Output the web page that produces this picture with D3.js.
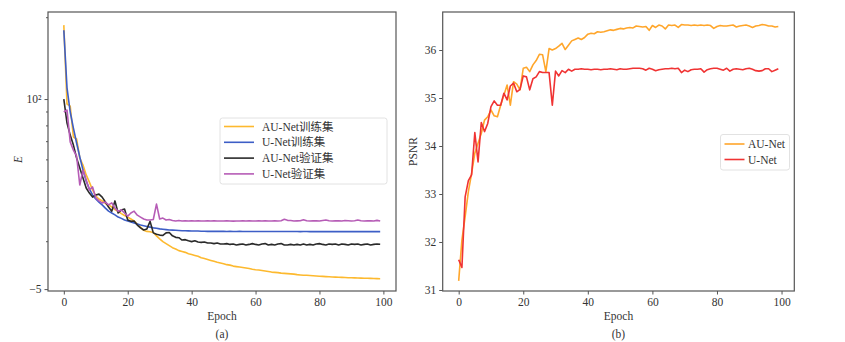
<!DOCTYPE html>
<html>
<head>
<meta charset="utf-8">
<script src="https://cdn.jsdelivr.net/npm/d3@7"></script>
<style>
  body { margin: 0; background: #fff; }
  svg { display: block; }
  text { font-family: "Liberation Serif", "Times New Roman", "Noto Sans CJK SC", serif; fill: #333; }
</style>
</head>
<body>
<div id="container"></div>
<script>
/* DATA */
const epochs = d3.range(0, 100);

// panel (a): E, log axis
const auNetTrain = [187, 95.9, 94.2, 72.5, 71.3, 60.7, 57.2, 52.6, 49.5, 46.3,
  44.0, 42.9, 42.2, 41.3, 40.8, 40.1, 39.2, 38.6, 37.9, 37.3,
  36.8, 36.2, 35.6, 34.7, 33.8, 32.9, 32.6, 32.5, 32.3, 31.4,
  30.6, 29.9, 29.4, 28.9, 28.4, 28.1, 27.7, 27.5, 27.3, 27.0,
  26.8, 26.6, 26.4, 26.1, 25.9, 25.7, 25.5, 25.3, 25.1, 24.95,
  24.8, 24.6, 24.5, 24.3, 24.2, 24.1, 24.0, 23.9, 23.8, 23.65,
  23.55, 23.5, 23.4, 23.3, 23.2, 23.1, 23.05, 23.0, 22.9, 22.85,
  22.8, 22.75, 22.7, 22.6, 22.55, 22.5, 22.5, 22.45, 22.4, 22.35,
  22.3, 22.27, 22.23, 22.2, 22.16, 22.14, 22.1, 22.08, 22.05, 22.03,
  22.01, 22.0, 21.97, 21.95, 21.93, 21.91, 21.9, 21.88, 21.86, 21.84];

const uNetTrain = [179, 110, 89.6, 78.2, 68.9, 61.2, 54.8, 49.9, 46.7, 44.4,
  42.9, 41.8, 40.8, 39.7, 38.7, 38.1, 37.5, 36.8, 36.4, 35.9,
  35.6, 35.3, 35.0, 34.7, 34.4, 34.2, 34.0, 33.8, 33.6, 33.5,
  33.3, 33.2, 33.1, 33.0, 32.95, 32.9, 32.85, 32.8, 32.8, 32.75,
  32.7, 32.7, 32.7, 32.65, 32.65, 32.6, 32.6, 32.6, 32.6, 32.6,
  32.6, 32.58, 32.6, 32.58, 32.58, 32.6, 32.58, 32.58, 32.57, 32.58,
  32.57, 32.57, 32.58, 32.57, 32.57, 32.56, 32.57, 32.57, 32.56, 32.56,
  32.57, 32.56, 32.56, 32.56, 32.55, 32.56, 32.56, 32.55, 32.56, 32.55,
  32.55, 32.55, 32.56, 32.55, 32.55, 32.55, 32.54, 32.55, 32.55, 32.54,
  32.55, 32.54, 32.54, 32.55, 32.54, 32.54, 32.54, 32.54, 32.53, 32.54];

const auNetVal = [100, 81.6, 73.7, 67.7, 60.7, 55.8, 51.2, 47.1, 45.1, 43.6,
  44.4, 44.7, 43.6, 41.8, 40.1, 38.7, 42.2, 38.1, 39.1, 39.4,
  35.9, 35.5, 35.6, 34.4, 33.6, 33.0, 33.3, 35.5, 32.2, 31.8,
  31.6, 31.5, 32.2, 32.3, 31.4, 31.0, 30.9, 30.3, 30.4, 30.1,
  29.9, 30.1, 29.8, 29.7, 29.8, 29.55, 29.55, 29.4, 29.55, 29.3,
  29.3, 29.4, 29.2, 29.3, 29.05, 29.2, 29.3, 29.05, 29.2, 29.4,
  29.2, 29.05, 29.3, 29.4, 29.05, 29.2, 29.05, 29.3, 29.4, 29.05,
  29.05, 29.2, 29.05, 29.2, 29.05, 29.3, 29.05, 29.2, 29.05, 29.3,
  29.4, 29.2, 29.05, 29.3, 29.2, 29.3, 29.05, 29.3, 29.2, 29.05,
  29.3, 29.2, 29.3, 29.05, 29.2, 29.3, 29.05, 29.2, 29.3, 29.25];

const uNetVal = [89.6, 91.1, 69.5, 64.9, 61.7, 48.3, 54.8, 50.4, 46.3, 47.5,
  43.3, 42.2, 41.5, 41.8, 40.8, 41.5, 39.7, 38.7, 39.1, 38.1,
  37.1, 38.1, 38.7, 37.4, 36.8, 36.2, 35.9, 35.9, 36.05, 41.1,
  36.2, 36.5, 35.9, 36.05, 35.75, 35.6, 35.75, 35.6, 35.7, 35.6,
  35.65, 35.6, 35.7, 35.6, 35.6, 35.65, 35.6, 35.7, 35.6, 35.6,
  35.6, 35.65, 35.6, 35.55, 35.6, 35.6, 35.65, 35.6, 35.7, 35.6,
  35.6, 35.65, 35.6, 35.7, 35.6, 35.6, 35.65, 35.6, 35.7, 36.1,
  35.8, 35.75, 35.6, 35.65, 35.7, 36.0, 35.7, 35.6, 35.65, 35.7,
  35.6, 35.75, 35.9, 35.7, 35.6, 35.65, 35.7, 35.6, 35.75, 35.7,
  35.6, 35.7, 35.9, 35.7, 35.6, 35.65, 35.7, 35.6, 35.8, 35.6];

// panel (b): PSNR
const auNetPsnr = [31.19, 32.04, 32.53, 33.05, 33.43, 33.85, 34.06, 34.26, 34.54, 34.61,
  34.75, 34.63, 34.61, 34.85, 35.06, 35.27, 34.85, 35.34, 35.29, 35.17,
  35.62, 35.64, 35.55, 35.69, 35.78, 35.91, 35.90, 35.55, 36.03, 36.00,
  36.03, 36.08, 36.14, 36.01, 36.10, 36.19, 36.22, 36.25, 36.22, 36.26,
  36.33, 36.35, 36.34, 36.38, 36.37, 36.38, 36.40, 36.42, 36.41, 36.43,
  36.45, 36.44, 36.46, 36.47, 36.46, 36.50, 36.49, 36.48, 36.49, 36.41,
  36.51, 36.47, 36.52, 36.50, 36.44, 36.52, 36.51, 36.52, 36.47, 36.53,
  36.52, 36.52, 36.51, 36.52, 36.51, 36.52, 36.51, 36.52, 36.51, 36.45,
  36.49, 36.51, 36.50, 36.50, 36.51, 36.52, 36.48, 36.50, 36.51, 36.52,
  36.50, 36.47, 36.50, 36.51, 36.53, 36.52, 36.50, 36.50, 36.48, 36.49];

const uNetPsnr = [31.63, 31.47, 32.94, 33.28, 33.40, 34.28, 33.67, 34.49, 34.30, 34.47,
  34.82, 34.94, 34.85, 34.85, 35.10, 34.96, 35.25, 35.31, 35.13, 35.18,
  35.46, 35.44, 35.17, 35.40, 35.44, 35.55, 35.53, 35.53, 35.53, 34.85,
  35.56, 35.46, 35.57, 35.53, 35.60, 35.56, 35.60, 35.60, 35.61, 35.60,
  35.60, 35.59, 35.60, 35.60, 35.59, 35.60, 35.60, 35.61, 35.60, 35.59,
  35.61, 35.60, 35.60, 35.61, 35.62, 35.62, 35.62, 35.61, 35.58, 35.62,
  35.60, 35.57, 35.59, 35.60, 35.61, 35.61, 35.62, 35.61, 35.62, 35.53,
  35.58, 35.55, 35.59, 35.60, 35.60, 35.61, 35.54, 35.59, 35.61, 35.62,
  35.62, 35.60, 35.58, 35.62, 35.56, 35.60, 35.61, 35.60, 35.59, 35.61,
  35.62, 35.60, 35.57, 35.56, 35.57, 35.61, 35.61, 35.55, 35.58, 35.61];

const xTickValues = [0, 20, 40, 60, 80, 100];
const eTickValues = [20, 30, 40, 50, 60, 70, 80, 90, 100, 200];
const eTickLabels = ["\u22125", "", "", "", "", "", "", "", "10\u00b2", ""];
const psnrTickValues = [31, 32, 33, 34, 35, 36];

const seriesA = [
  { name: "AU-Net训练集", values: auNetTrain, color: "#fdb92e" },
  { name: "U-Net训练集", values: uNetTrain, color: "#3d5ec6" },
  { name: "AU-Net验证集", values: auNetVal, color: "#2a2a2a" },
  { name: "U-Net验证集", values: uNetVal, color: "#b65cb6" }
];
const seriesB = [
  { name: "AU-Net", values: auNetPsnr, color: "#ffa62b" },
  { name: "U-Net", values: uNetPsnr, color: "#f03333" }
];

/* CONSTANTS */
const width = 845;
const height = 342;
const spine = "#555";

const svg = d3.select("#container")
  .append("svg")
  .attr("width", width)
  .attr("height", height);

svg.append("rect").attr("width", width).attr("height", height).attr("fill", "#fff");

function drawPanel(box, yScale, series, opts) {
  const x = d3.scaleLinear().domain([-4.95, 103.95]).range([box.left, box.right]);
  const g = svg.append("g");

  // x axis
  const xAxis = g.append("g")
    .attr("transform", `translate(0, ${box.bottom})`)
    .call(d3.axisBottom(x).tickValues(xTickValues).tickSize(3.5).tickPadding(3).tickSizeOuter(0));
  xAxis.select(".domain").remove();
  xAxis.selectAll("line").attr("stroke", spine);
  xAxis.selectAll("text").attr("font-size", 11.5).attr("font-family", null).attr("fill", "#333");

  // y axis
  const yAxis = g.append("g")
    .attr("transform", `translate(${box.left}, 0)`)
    .call(d3.axisLeft(yScale).tickValues(opts.yTicks).tickFormat(opts.yFormat).tickSize(3.5).tickPadding(3).tickSizeOuter(0));
  yAxis.select(".domain").remove();
  yAxis.selectAll("line").attr("stroke", spine);
  yAxis.selectAll("text").attr("font-size", 11.5).attr("font-family", null).attr("fill", "#333");
  if (opts.minor) {
    yAxis.selectAll(".tick").filter((d, i) => opts.yFormat(d, i) === "")
      .select("line").attr("x2", -2);
  }

  // lines
  const line = d3.line()
    .x((d, i) => x(epochs[i]))
    .y(d => yScale(d));

  g.selectAll(".series")
    .data(series)
    .join("path")
    .attr("d", d => line(d.values))
    .attr("fill", "none")
    .attr("stroke", d => d.color)
    .attr("stroke-width", 1.6)
    .attr("stroke-linejoin", "round");

  // frame
  g.append("rect")
    .attr("x", box.left)
    .attr("y", box.top)
    .attr("width", box.right - box.left)
    .attr("height", box.bottom - box.top)
    .attr("fill", "none")
    .attr("stroke", spine)
    .attr("stroke-width", 1.2);

  // labels
  const cx = (box.left + box.right) / 2;
  g.append("text")
    .attr("x", cx)
    .attr("y", 320)
    .attr("text-anchor", "middle")
    .attr("font-size", 11.5)
    .text("Epoch");
  g.append("text")
    .attr("x", cx)
    .attr("y", 338)
    .attr("text-anchor", "middle")
    .attr("font-size", 11.5)
    .text(opts.caption);
  g.append("text")
    .attr("transform", `translate(${opts.yLabelX}, ${(box.top + box.bottom) / 2 + opts.yLabelDy}) rotate(-90)`)
    .attr("text-anchor", "middle")
    .attr("font-size", 11.5)
    .attr("font-style", opts.yLabelItalic ? "italic" : null)
    .text(opts.yLabel);

  // legend
  const lg = opts.legend;
  g.append("rect")
    .attr("x", lg.x)
    .attr("y", lg.y)
    .attr("width", lg.w)
    .attr("height", lg.h)
    .attr("rx", 2.5)
    .attr("fill", "#fff")
    .attr("fill-opacity", 0.85)
    .attr("stroke", "#e2e2e2");
  const items = g.selectAll(".legend-item")
    .data(series)
    .join("g")
    .attr("transform", (d, i) => `translate(${lg.x}, ${lg.y + lg.first + i * lg.step})`);
  items.append("line")
    .attr("x1", 4).attr("x2", 4 + lg.lineLen)
    .attr("stroke", d => d.color)
    .attr("stroke-width", 1.6);
  items.append("text")
    .attr("x", lg.textX)
    .attr("dy", "0.35em")
    .attr("font-size", 11.5)
    .text(d => d.name);
}

/* panel (a) */
const boxA = { left: 48, right: 396, top: 12, bottom: 291 };
const yA = d3.scaleLog().domain([19.68, 209]).range([boxA.bottom, boxA.top]);
drawPanel(boxA, yA, seriesA, {
  yTicks: eTickValues,
  yFormat: (d, i) => eTickLabels[eTickValues.indexOf(d)],
  minor: true,
  caption: "(a)",
  yLabel: "E",
  yLabelItalic: true,
  yLabelX: 22,
  yLabelDy: 8,
  legend: { x: 220, y: 118, w: 167, h: 66, first: 8.5, step: 15.8, lineLen: 30, textX: 42 }
});

/* panel (b) */
const boxB = { left: 442.7, right: 794.3, top: 12, bottom: 291 };
const yB = d3.scaleLinear().domain([30.979, 36.792]).range([boxB.bottom, boxB.top]);
drawPanel(boxB, yB, seriesB, {
  yTicks: psnrTickValues,
  yFormat: d => d3.format("d")(d),
  minor: false,
  caption: "(b)",
  yLabel: "PSNR",
  yLabelItalic: false,
  yLabelX: 417,
  yLabelDy: 0,
  legend: { x: 720.5, y: 134.5, w: 69, h: 35.5, first: 9.5, step: 15.5, lineLen: 20, textX: 27.5 }
});
</script>
</body>
</html>
